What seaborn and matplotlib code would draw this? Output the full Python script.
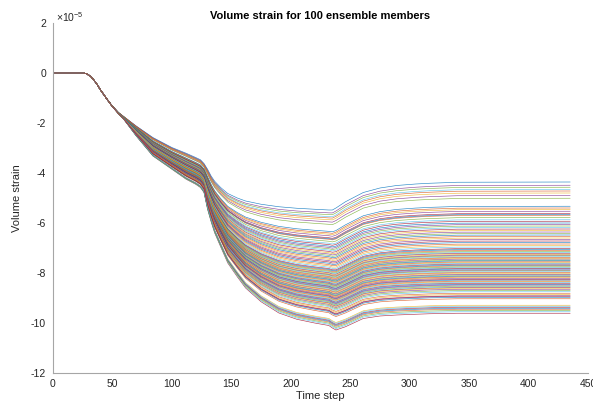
import numpy as np
import pandas as pd
import matplotlib
matplotlib.use("Agg")
import matplotlib.pyplot as plt
import seaborn as sns

# ---- data (strain in units of 1e-5) ----
knot_time = [0, 25, 28, 32, 36, 40, 45, 50, 55, 60, 70, 84, 100, 112, 120, 124,
             127, 130, 133, 136, 141, 147, 155, 162, 175, 190, 205, 220, 232,
             235, 238, 246, 261, 275, 289, 305, 317, 340, 435]

upper_member_strain = [0, 0, -0.02, -0.15, -0.38, -0.68, -1.02, -1.33, -1.58, -1.76,
                       -2.12, -2.58, -2.98, -3.21, -3.38, -3.47, -3.62, -3.85, -4.12,
                       -4.33, -4.58, -4.82, -5.00, -5.12, -5.25, -5.35, -5.41, -5.45,
                       -5.48, -5.48, -5.40, -5.15, -4.78, -4.60, -4.50, -4.44, -4.41,
                       -4.37, -4.36]

lower_member_strain = [0, 0, -0.02, -0.15, -0.38, -0.68, -1.02, -1.35, -1.62, -1.88,
                       -2.52, -3.32, -3.85, -4.25, -4.45, -4.58, -4.78, -5.45, -5.95,
                       -6.40, -6.95, -7.60, -8.15, -8.60, -9.15, -9.60, -9.85, -10.00,
                       -10.10, -10.20, -10.28, -10.15, -9.82, -9.72, -9.68, -9.65,
                       -9.63, -9.61, -9.61]

final_strain = [
    -4.36, -4.49, -4.57, -4.66, -4.72, -4.80, -4.90, -5.01,
    -5.33, -5.40, -5.46, -5.53, -5.62, -5.66, -5.69, -5.78,
    -5.87, -5.93, -6.00, -6.06, -6.12, -6.18, -6.24, -6.30, -6.36, -6.42,
    -6.48, -6.54, -6.60, -6.66, -6.72, -6.78, -6.84, -6.90, -6.96, -7.02,
    -7.06, -7.10, -7.14, -7.18, -7.21, -7.25, -7.28, -7.31, -7.35, -7.38,
    -7.41, -7.44, -7.48, -7.51, -7.55, -7.58, -7.61, -7.64, -7.68, -7.71,
    -7.75, -7.78, -7.81, -7.84, -7.88, -7.91, -7.95, -7.98, -8.01, -8.05,
    -8.08, -8.12, -8.15, -8.18, -8.21, -8.25, -8.28, -8.32, -8.35, -8.38,
    -8.41, -8.45, -8.48, -8.52, -8.55, -8.58, -8.61, -8.65,
    -8.70, -8.75, -8.81, -8.86, -8.91, -8.93, -8.97, -9.03,
    -9.29, -9.33, -9.37, -9.41, -9.45, -9.50, -9.55, -9.61,
]

x_ticks = [0, 50, 100, 150, 200, 250, 300, 350, 400, 450]
y_ticks = [-12, -10, -8, -6, -4, -2, 0, 2]

# ---- build the ensemble table ----
up = np.array(upper_member_strain)
lo = np.array(lower_member_strain)
n = len(final_strain)
rows = []
for i in range(n):
    s = (i * 37) % n  # member i in plotting order
    fv = final_strain[s]
    w = (fv - up[-1]) / (lo[-1] - up[-1])
    curve = up + w * (lo - up)
    for t, v in zip(knot_time, curve):
        rows.append((i, t, v))
df = pd.DataFrame(rows, columns=["member", "time", "strain"])

matlab_colors = ["#0072BD", "#D95319", "#EDB120", "#7E2F8E", "#77AC30", "#4DBEEE", "#A2142F"]
palette = [matlab_colors[i % 7] for i in range(n)]

sns.set_style("white")
plt.rcParams["font.family"] = ["Liberation Sans", "DejaVu Sans"]
plt.rcParams["axes.unicode_minus"] = False
plt.rcParams["mathtext.fontset"] = "custom"
plt.rcParams["mathtext.rm"] = "Liberation Sans"

fig = plt.figure(figsize=(5.93, 4.01), dpi=100)
ax = fig.add_axes([53 / 593, 1 - 373 / 401, 535 / 593, 350 / 401])

sns.lineplot(data=df, x="time", y="strain", hue="member", palette=palette,
             legend=False, linewidth=0.45, alpha=0.85, estimator=None, sort=False, ax=ax)

ax.set_xlim(0, 450)
ax.set_ylim(-12, 2)
ax.set_xticks(x_ticks)
ax.set_yticks(y_ticks)
ax.set_xticklabels([str(v) for v in x_ticks])
ax.set_yticklabels([str(v) for v in y_ticks])

for side in ["top", "right"]:
    ax.spines[side].set_visible(False)
for side in ["left", "bottom"]:
    ax.spines[side].set_color("#a6a6a6")
    ax.spines[side].set_linewidth(0.8)
ax.tick_params(direction="in", length=3.5, width=0.6, color="#a6a6a6",
               labelsize=7.5, labelcolor="#262626")
ax.tick_params(axis="y", pad=5)
ax.tick_params(axis="x", pad=4)

ax.set_xlabel("Time step", fontsize=8, color="#262626", labelpad=2)
ax.set_ylabel("Volume strain", fontsize=8, color="#262626", labelpad=6)
ax.set_title("Volume strain for 100 ensemble members", fontsize=8,
             fontweight="bold", color="black", pad=3)
fig.text(56 / 593, 1 - 17 / 401, r"$\times10^{-5}$", fontsize=7.5,
         color="#262626", va="center", ha="left")

fig.savefig("out.png", dpi=100)
